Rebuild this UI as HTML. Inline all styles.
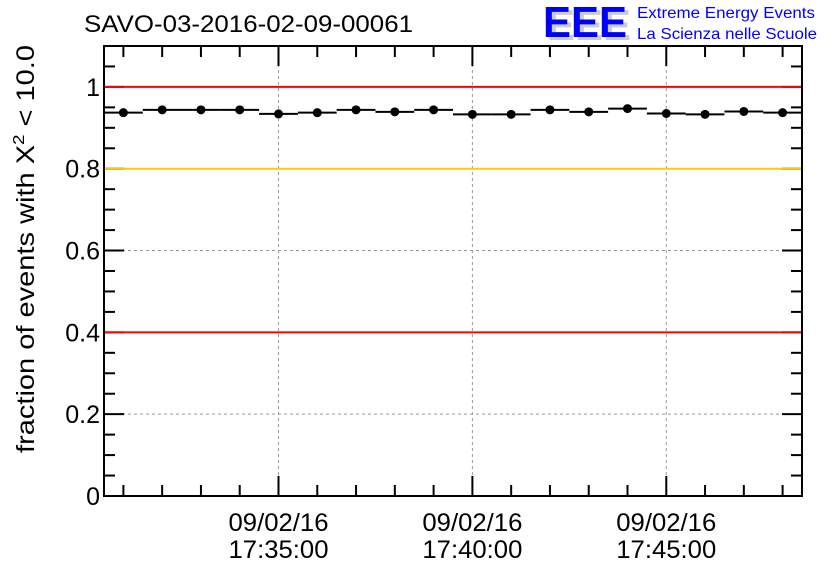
<!DOCTYPE html>
<html><head><meta charset="utf-8"><style>
body{margin:0;background:#fff;width:836px;height:572px;overflow:hidden}
text{font-family:"Liberation Sans",sans-serif}
</style></head><body>
<svg id="chart" width="836" height="572" xmlns="http://www.w3.org/2000/svg">
<text x="84" y="32" font-size="24" textLength="329" lengthAdjust="spacingAndGlyphs">SAVO-03-2016-02-09-00061</text>
<g>
<text x="547" y="40" font-size="44" font-weight="bold" fill="#ccc" textLength="84" lengthAdjust="spacingAndGlyphs">EEE</text>
<text x="543" y="37" font-size="44" font-weight="bold" fill="#0000ff" textLength="84" lengthAdjust="spacingAndGlyphs">EEE</text>
<text x="637" y="18" font-size="16" fill="#0000ff" textLength="178" lengthAdjust="spacingAndGlyphs">Extreme Energy Events</text>
<text x="637" y="39" font-size="16" fill="#0000ff" textLength="180" lengthAdjust="spacingAndGlyphs">La Scienza nelle Scuole</text>
</g>
<g id="grid"></g><g id="axes"></g><g id="refs"></g><g id="marks"></g>
<text transform="translate(34,453) rotate(-90)" font-size="25" textLength="408" lengthAdjust="spacingAndGlyphs">fraction of events with Χ<tspan dy="-10" font-size="16">2</tspan><tspan dy="10"> &lt; 10.0</tspan></text>
</svg>
<script>
const minutes=[1,2,3,4,5,6,7,8,9,10,11,12,13,14,15,16,17,18];
const values=[0.937,0.944,0.944,0.944,0.934,0.937,0.944,0.939,0.944,0.933,0.933,0.944,0.939,0.947,0.935,0.933,0.940,0.937];
const yTicks=[0,0.2,0.4,0.6,0.8,1];
const yTickLabels=["0","0.2","0.4","0.6","0.8","1"];
const xMajor=[5,10,15];
const xLabels=["17:35:00","17:40:00","17:45:00"];
const refLines=[1,0.8,0.4];
const refColors=["#ff0000","#ffcc00","#ff0000"];
const L=104,R=802,T=46,B=496,ymin=0,ymax=1.1,xmin=0.5,xmax=18.5;
const sx=v=>L+(v-xmin)/(xmax-xmin)*(R-L);
const sy=v=>B-(v-ymin)/(ymax-ymin)*(B-T);
const NS="http://www.w3.org/2000/svg";
function mk(p,tag,a){const e=document.createElementNS(NS,tag);for(const k in a)e.setAttribute(k,a[k]);document.getElementById(p).appendChild(e);return e;}
yTicks.forEach((v,i)=>{if(v>0&&v<1){const g=mk('grid','line',{x1:L,x2:R,y1:sy(v),y2:sy(v),stroke:'#999','stroke-dasharray':'3,3'});

}
const t=mk('axes','text',{x:L-4,y:sy(v)+9,'text-anchor':'end','font-size':25});t.textContent=yTickLabels[i];

});
xMajor.forEach((m,i)=>{const g=mk('grid','line',{x1:sx(m),x2:sx(m),y1:T,y2:B,stroke:'#999','stroke-dasharray':'3,3'});


const t=mk('axes','text',{x:sx(m),y:531,'text-anchor':'middle','font-size':25,textLength:100,lengthAdjust:'spacingAndGlyphs'});t.textContent='09/02/16';


const t2=mk('axes','text',{x:sx(m),y:558,'text-anchor':'middle','font-size':25,textLength:100,lengthAdjust:'spacingAndGlyphs'});t2.textContent=xLabels[i];

});
const f=mk('axes','rect',{x:L,y:T,width:R-L,height:B-T,fill:'none',stroke:'#000','stroke-width':2});


for(let v=0;v<=1.1001;v+=0.05){const maj=Math.abs(v/0.2-Math.round(v/0.2))<1e-6;const len=maj?20:11;
mk('axes','line',{x1:L,x2:L+len,y1:sy(v),y2:sy(v),stroke:'#000','stroke-width':2});
mk('axes','line',{x1:R,x2:R-len,y1:sy(v),y2:sy(v),stroke:'#000','stroke-width':2});}
minutes.forEach(m=>{const len=m%5===0?20:11;
mk('axes','line',{x1:sx(m),x2:sx(m),y1:B,y2:B-len,stroke:'#000','stroke-width':2});
mk('axes','line',{x1:sx(m),x2:sx(m),y1:T,y2:T+len,stroke:'#000','stroke-width':2});});
refLines.forEach((v,i)=>{const r=mk('refs','line',{x1:L+1,x2:R-1,y1:sy(v),y2:sy(v),stroke:refColors[i],'stroke-width':2});

});
minutes.forEach((m,i)=>{const y=sy(values[i]);
const b=mk('marks','line',{x1:sx(m-0.5),x2:sx(m+0.5),y1:y,y2:y,stroke:'#000','stroke-width':2});


const c=mk('marks','circle',{cx:sx(m),cy:y,r:4.5,fill:'#000'});

});
</script>
</body></html>
